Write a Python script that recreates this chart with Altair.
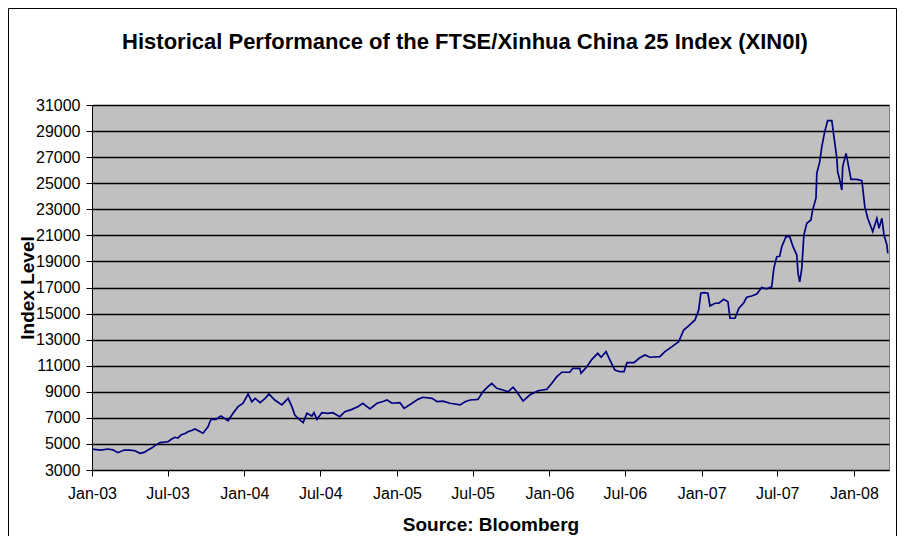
import altair as alt
import pandas as pd

dates = [
    "2003-01-01", "2003-01-22", "2003-02-08", "2003-02-20", "2003-03-04", "2003-03-19",
    "2003-04-02", "2003-04-14", "2003-04-26", "2003-05-06", "2003-05-15", "2003-05-25",
    "2003-06-01", "2003-06-13", "2003-06-25", "2003-07-02", "2003-07-12", "2003-07-19",
    "2003-07-26", "2003-08-02", "2003-08-12", "2003-08-19", "2003-08-29", "2003-09-05",
    "2003-09-14", "2003-09-24", "2003-10-06", "2003-10-13", "2003-10-25", "2003-11-06",
    "2003-11-13", "2003-11-23", "2003-12-05", "2003-12-17", "2003-12-29", "2004-01-10",
    "2004-01-19", "2004-01-27", "2004-02-08", "2004-02-20", "2004-02-29", "2004-03-14",
    "2004-03-31", "2004-04-15", "2004-04-24", "2004-05-01", "2004-05-11", "2004-05-21",
    "2004-05-30", "2004-06-11", "2004-06-16", "2004-06-23", "2004-07-05", "2004-07-19",
    "2004-07-31", "2004-08-17", "2004-08-29", "2004-09-15", "2004-09-29", "2004-10-11",
    "2004-10-28", "2004-11-14", "2004-11-28", "2004-12-08", "2004-12-20", "2005-01-08",
    "2005-01-18", "2005-02-06", "2005-02-20", "2005-03-04", "2005-03-26", "2005-04-07",
    "2005-04-21", "2005-05-08", "2005-06-01", "2005-06-13", "2005-06-25", "2005-07-14",
    "2005-07-26", "2005-08-07", "2005-08-16", "2005-08-28", "2005-09-12", "2005-09-24",
    "2005-10-06", "2005-10-15", "2005-10-30", "2005-11-15", "2005-12-05", "2005-12-26",
    "2006-01-07", "2006-01-19", "2006-01-31", "2006-02-19", "2006-02-26", "2006-03-15",
    "2006-03-18", "2006-04-01", "2006-04-13", "2006-04-27", "2006-05-05", "2006-05-17",
    "2006-05-26", "2006-06-07", "2006-06-19", "2006-06-29", "2006-07-06", "2006-07-23",
    "2006-08-04", "2006-08-18", "2006-08-30", "2006-09-23", "2006-10-05", "2006-10-22",
    "2006-11-07", "2006-11-19", "2006-12-01", "2006-12-16", "2006-12-25", "2006-12-30",
    "2007-01-06", "2007-01-16", "2007-01-21", "2007-02-02", "2007-02-11", "2007-02-23",
    "2007-03-05", "2007-03-10", "2007-03-22", "2007-03-31", "2007-04-12", "2007-04-19",
    "2007-05-01", "2007-05-13", "2007-05-25", "2007-06-06", "2007-06-18", "2007-06-23",
    "2007-06-30", "2007-07-07", "2007-07-12", "2007-07-22", "2007-07-31", "2007-08-08",
    "2007-08-17", "2007-08-20", "2007-08-24", "2007-08-29", "2007-09-03", "2007-09-10",
    "2007-09-20", "2007-09-24", "2007-10-02", "2007-10-04", "2007-10-11", "2007-10-16",
    "2007-10-23", "2007-10-30", "2007-11-09", "2007-11-14", "2007-11-21", "2007-11-23",
    "2007-11-28", "2007-12-03", "2007-12-05", "2007-12-13", "2007-12-17", "2007-12-25",
    "2008-01-08", "2008-01-20", "2008-01-27", "2008-02-03", "2008-02-15", "2008-02-25",
    "2008-03-01", "2008-03-08", "2008-03-13", "2008-03-20", "2008-03-22",
]

index_level = [
    4600, 4530, 4610, 4550, 4330, 4530,
    4520, 4480, 4280, 4350, 4530, 4700,
    4870, 5100, 5150, 5180, 5400, 5510,
    5450, 5690, 5800, 5940, 6050, 6150,
    6000, 5820, 6320, 6890, 6890, 7140,
    7000, 6780, 7350, 7860, 8120, 8830,
    8240, 8500, 8160, 8500, 8830, 8370,
    7990, 8500, 7860, 7220, 6900, 6630,
    7350, 7140, 7400, 6890, 7400, 7350,
    7400, 7090, 7470, 7650, 7860, 8120,
    7680, 8120, 8250, 8370, 8120, 8160,
    7730, 8120, 8420, 8580, 8500, 8240,
    8280, 8120, 7990, 8240, 8370, 8420,
    9010, 9390, 9650, 9270, 9140, 9000,
    9350, 9000, 8290, 8750, 9080, 9190,
    9650, 10160, 10500, 10500, 10800, 10800,
    10420, 10930, 11490, 11950, 11650, 12080,
    11440, 10670, 10540, 10540, 11230, 11230,
    11570, 11820, 11650, 11700, 12080, 12460,
    12850, 13740, 14050, 14510, 15280, 16560,
    16600, 16560, 15580, 15790, 15790, 16100,
    15910, 14640, 14640, 15400, 15830, 16250,
    16350, 16500, 17000, 16900, 17060, 18470,
    19360, 19400, 20130, 20900, 20900, 20130,
    19490, 18090, 17440, 18470, 21030, 21930,
    22180, 22950, 23850, 25760, 26650, 27810,
    28960, 29800, 29800, 28570, 26910, 25890,
    25240, 24480, 26270, 27290, 26650, 25300,
    25300, 25200, 23200, 22310, 21290, 22310,
    21540, 22310, 21030, 20260, 19620,
]

y_ticks = list(range(3000, 31001, 2000))
x_tick_years = [2003, 2003, 2004, 2004, 2005, 2005, 2006, 2006, 2007, 2007, 2008]
x_tick_months = [1, 7, 1, 7, 1, 7, 1, 7, 1, 7, 1]

chart_title = "Historical Performance of the FTSE/Xinhua China 25 Index (XIN0I)"

df = pd.DataFrame({"date": pd.to_datetime(dates), "value": index_level})

FONT = "Liberation Sans"
W, H = 797, 365

x_vals = [alt.DateTime(year=y, month=m, date=1) for y, m in zip(x_tick_years, x_tick_months)]

line = alt.Chart(df).mark_line(color="#000080", strokeWidth=1.7).encode(
    x=alt.X(
        "date:T",
        scale=alt.Scale(domain=[alt.DateTime(year=2003, month=1, date=1),
                                alt.DateTime(year=2008, month=3, date=25)]),
        axis=alt.Axis(
            values=x_vals, format="%b-%y", title="Source: Bloomberg",
            grid=False, tickSize=6, tickColor="black", domainColor="black",
            labelFont=FONT, labelFontSize=16, labelColor="black", labelPadding=9,
            titleFont=FONT, titleFontSize=19, titleFontWeight="bold", titleColor="black",
            titleY=54, titleBaseline="middle", labelFlush=False,
        ),
    ),
    y=alt.Y(
        "value:Q",
        scale=alt.Scale(domain=[3000, 31000], nice=False, zero=False),
        axis=alt.Axis(
            values=y_ticks, format="d", title="Index Level",
            grid=True, gridColor="black", gridWidth=1.5,
            tickSize=6, tickColor="black", domainColor="black",
            labelFont=FONT, labelFontSize=16, labelColor="black", labelPadding=6,
            titleFont=FONT, titleFontSize=19, titleFontWeight="bold", titleColor="black",
            titleX=-65, titleY=H / 2, titleAngle=270, titleAlign="center", titleBaseline="middle",
        ),
    ),
)

one = pd.DataFrame({"a": [0]})

border = alt.Chart(one).mark_rect(
    fill=None, stroke="black", strokeWidth=1
).encode(
    x=alt.value(-83.5), x2=alt.value(804.5), y=alt.value(-96.5), y2=alt.value(480)
)

title_text = alt.Chart(one).mark_text(
    text=chart_title, font=FONT, fontSize=22, fontWeight="bold", color="black",
    align="center", baseline="alphabetic",
).encode(x=alt.value(373), y=alt.value(-56))

chart = alt.layer(line, border, title_text).properties(
    width=W,
    height=H,
    autosize=alt.AutoSizeParams(type="none"),
    padding={"left": 84, "top": 97, "right": 8, "bottom": 66},
).configure_view(
    fill="#C0C0C0", stroke="#808080", strokeWidth=1
)

chart.save("out.html", embed_options={"renderer": "svg", "actions": False})
